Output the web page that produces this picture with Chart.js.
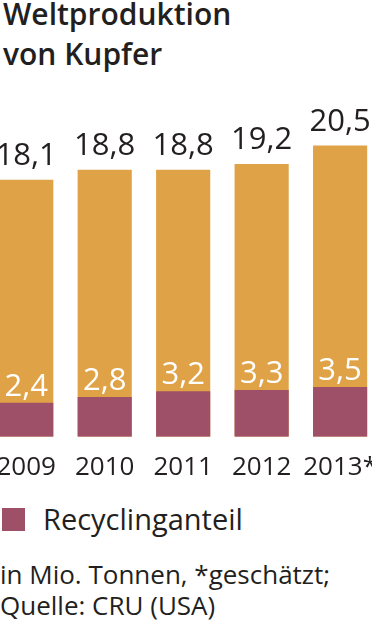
<!DOCTYPE html>
<html>
<head>
<meta charset="utf-8">
<script src="https://cdn.jsdelivr.net/npm/chart.js@4/dist/chart.umd.min.js"></script>
<style>
  body { margin:0; width:372px; height:628px; overflow:hidden; background:#fff; position:relative;
         font-family:"Open Sans", sans-serif; color:#231f20; }
  #title { position:absolute; left:3px; top:-6px; font-size:30px; font-weight:600; line-height:40px; }
  #wrap { position:absolute; left:-13px; top:0; width:397px; height:490px; }
  #legend { position:absolute; left:2px; top:503px; font-size:29px; line-height:32px; }
  #legend span.box { display:inline-block; width:23px; height:23px; background:#9e5069; vertical-align:-1px; margin-right:18px; }
  #note { position:absolute; left:0; top:559px; font-size:26px; line-height:31px; }
</style>
</head>
<body>
<div id="title">Weltproduktion<br>von Kupfer</div>
<div id="wrap"><canvas id="myChart" width="397" height="490"></canvas></div>
<div id="legend"><span class="box"></span>Recyclinganteil</div>
<div id="note">in Mio. Tonnen, *geschätzt;<br>Quelle: CRU (USA)</div>
<script>
var years = ["2009", "2010", "2011", "2012", "2013*"];
var production = [18.1, 18.8, 18.8, 19.2, 20.5];
var recycling = [2.4, 2.8, 3.2, 3.3, 3.5];

function fmt(v) { return v.toFixed(1).replace(".", ","); }

var labelPlugin = {
  id: 'valueLabels',
  afterDatasetsDraw: function(chart) {
    var ctx = chart.ctx;
    ctx.save();
    ctx.font = '31px "Open Sans"';
    ctx.textAlign = 'center';
    ctx.textBaseline = 'alphabetic';
    chart.getDatasetMeta(0).data.forEach(function(bar, i) {
      ctx.fillStyle = '#231f20';
      ctx.fillText(fmt(production[i]), bar.x, bar.y - 15);
    });
    chart.getDatasetMeta(1).data.forEach(function(bar, i) {
      ctx.fillStyle = '#ffffff';
      ctx.fillText(fmt(recycling[i]), bar.x, bar.y - 7);
    });
    ctx.restore();
  }
};

var ctx = document.getElementById("myChart");
var myChart = new Chart(ctx, {
  type: 'bar',
  data: {
    labels: years,
    datasets: [
      {
        label: 'Gesamt',
        backgroundColor: '#dfa246',
        data: production,
        order: 2
      },
      {
        label: 'Recyclinganteil',
        backgroundColor: '#9e5069',
        data: recycling,
        order: 1
      }
    ]
  },
  options: {
    responsive: false,
    animation: false,
    layout: { padding: { top: 130, bottom: 0, left: 0, right: 0 } },
    datasets: { bar: { grouped: false, barPercentage: 1, categoryPercentage: 0.69 } },
    plugins: { legend: { display: false }, tooltip: { enabled: false } },
    scales: {
      x: {
        grid: { display: false },
        border: { display: false },
        ticks: { color: '#231f20', font: { family: 'Open Sans', size: 26 }, padding: 7,
                 maxRotation: 0, minRotation: 0, autoSkip: false }
      },
      y: { display: false, min: 0, max: 21.6 }
    }
  },
  plugins: [labelPlugin]
});
</script>
</body>
</html>
